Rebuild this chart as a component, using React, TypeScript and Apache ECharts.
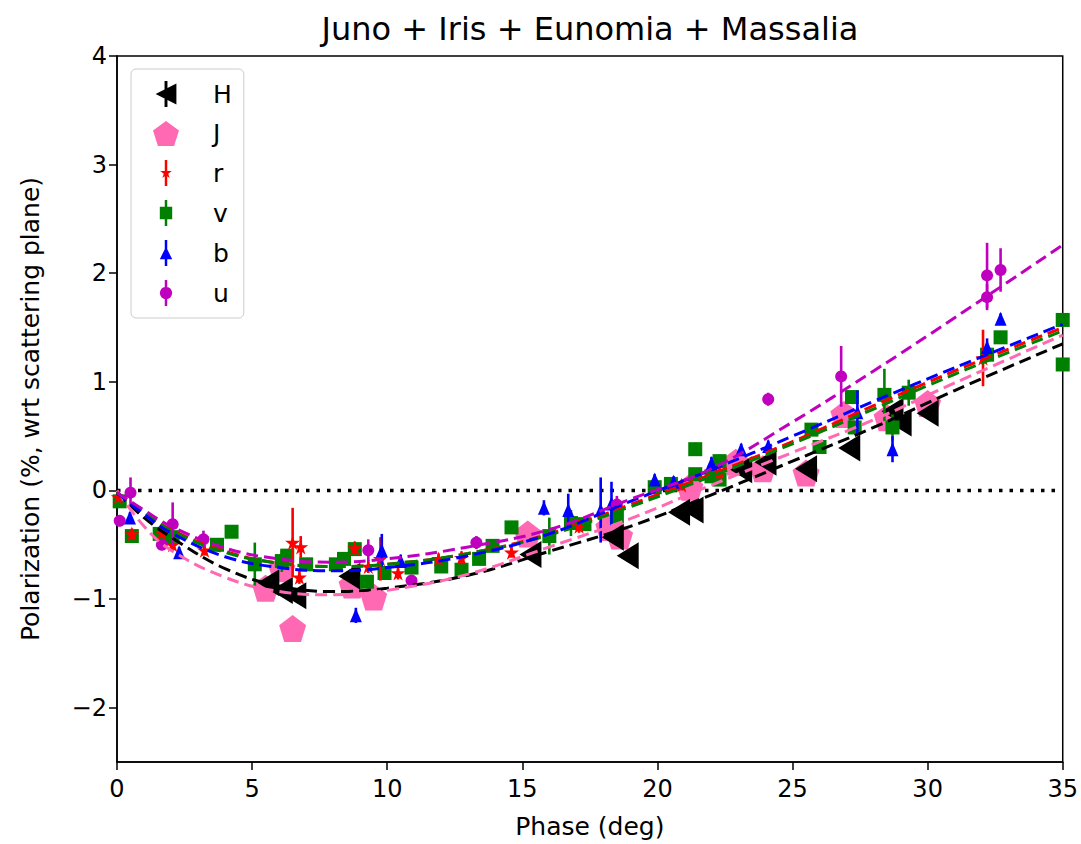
import React, { useEffect, useRef } from "react";
import * as echarts from "echarts";

const titleText = "Juno + Iris + Eunomia + Massalia";
const xTicks = [0, 5, 10, 15, 20, 25, 30, 35];
const yTicks = [-2, -1, 0, 1, 2, 3, 4];

// [phase (deg), polarization (%), error]
const hPoints = [
  [5.6, -0.85, 0.05], [6.1, -0.92, 0.05], [6.6, -0.97, 0.05], [8.6, -0.79, 0.05],
  [15.3, -0.59, 0.05], [18.35, -0.43, 0.05], [18.9, -0.6, 0.05], [20.8, -0.2, 0.05],
  [21.3, -0.18, 0.05], [23.1, 0.19, 0.05], [24.0, 0.26, 0.05], [25.5, 0.2, 0.05],
  [27.1, 0.39, 0.05], [28.7, 0.73, 0.05], [29.0, 0.62, 0.05], [30.0, 0.71, 0.05],
];
const jPoints = [
  [5.5, -0.9, 0.04], [6.1, -0.72, 0.04], [6.5, -1.27, 0.04], [8.7, -0.87, 0.04],
  [9.5, -0.98, 0.04], [15.2, -0.4, 0.04], [18.2, -0.34, 0.04], [18.6, -0.42, 0.04],
  [21.2, 0.03, 0.04], [22.9, 0.26, 0.04], [23.9, 0.2, 0.04], [25.5, 0.16, 0.04],
  [26.9, 0.7, 0.04], [28.5, 0.67, 0.04], [30.0, 0.8, 0.04],
];
const rPoints = [
  [0.05, -0.06, 0.04], [0.55, -0.4, 0.05], [1.66, -0.39, 0.05], [2.06, -0.5, 0.06],
  [3.24, -0.55, 0.05], [6.5, -0.48, 0.32], [6.8, -0.52, 0.1], [6.75, -0.8, 0.06],
  [8.8, -0.53, 0.06], [9.3, -0.7, 0.06], [9.75, -0.63, 0.2], [10.4, -0.76, 0.06],
  [11.9, -0.63, 0.05], [12.75, -0.62, 0.06], [14.6, -0.57, 0.05], [17.1, -0.33, 0.06],
  [20.9, 0.05, 0.05], [22.3, 0.17, 0.06], [32.05, 1.22, 0.26],
];
const vPoints = [
  [0.1, -0.1, 0.04], [0.55, -0.42, 0.04], [1.58, -0.4, 0.05], [2.06, -0.43, 0.05],
  [3.7, -0.5, 0.05], [4.24, -0.38, 0.04], [5.1, -0.68, 0.2], [6.1, -0.65, 0.1],
  [6.3, -0.6, 0.06], [7.0, -0.68, 0.05], [8.1, -0.68, 0.05], [8.4, -0.63, 0.05],
  [8.8, -0.54, 0.06], [9.25, -0.84, 0.06], [9.9, -0.76, 0.05], [10.9, -0.71, 0.05],
  [12.0, -0.7, 0.05], [12.75, -0.73, 0.05], [13.4, -0.63, 0.05], [13.9, -0.51, 0.05],
  [14.6, -0.34, 0.05], [16.0, -0.42, 0.17], [16.8, -0.3, 0.12], [17.3, -0.31, 0.05],
  [18.5, -0.24, 0.06], [19.9, 0.03, 0.05], [20.5, 0.06, 0.05], [21.4, 0.38, 0.06],
  [21.4, 0.15, 0.05], [22.0, 0.13, 0.05], [22.3, 0.27, 0.06], [22.3, 0.1, 0.05],
  [25.7, 0.56, 0.05], [26.0, 0.4, 0.05], [27.2, 0.86, 0.06], [27.3, 0.58, 0.06],
  [28.4, 0.88, 0.24], [28.7, 0.58, 0.12], [29.3, 0.9, 0.12], [32.7, 1.41, 0.05],
  [32.2, 1.25, 0.05], [35.0, 1.57, 0.05], [35.0, 1.16, 0.05],
];
const bPoints = [
  [0.48, -0.25, 0.05], [2.3, -0.57, 0.05], [8.84, -1.15, 0.07], [9.8, -0.55, 0.15],
  [10.5, -0.65, 0.06], [15.8, -0.16, 0.07], [16.7, -0.18, 0.15], [17.9, -0.18, 0.3],
  [18.3, -0.12, 0.2], [19.9, 0.1, 0.05], [20.6, 0.08, 0.05], [22.0, 0.25, 0.06],
  [23.1, 0.38, 0.05], [24.1, 0.41, 0.05], [27.4, 0.72, 0.2], [28.7, 0.38, 0.12],
  [32.2, 1.32, 0.08], [32.7, 1.58, 0.05],
];
const uPoints = [
  [0.1, -0.28, 0.05], [0.5, -0.02, 0.14], [2.06, -0.31, 0.2], [1.66, -0.5, 0.05],
  [3.2, -0.45, 0.08], [9.3, -0.55, 0.1], [10.9, -0.83, 0.05], [13.3, -0.48, 0.06],
  [18.5, -0.13, 0.08], [24.1, 0.84, 0.06], [26.8, 1.05, 0.28], [32.2, 1.98, 0.3],
  [32.2, 1.78, 0.12], [32.7, 2.03, 0.2],
];

// fitted phase curves
const fitX = [0, 1, 2, 4, 6, 8, 10, 13, 16, 19, 22, 25, 28, 31, 35];
const hFit = [-0.02, -0.25, -0.43, -0.72, -0.88, -0.93, -0.9, -0.78, -0.56, -0.33, -0.04, 0.27, 0.58, 0.92, 1.35];
const jFit = [0, -0.33, -0.55, -0.8, -0.93, -0.96, -0.92, -0.77, -0.52, -0.26, 0.05, 0.35, 0.65, 0.99, 1.43];
const rFit = [-0.02, -0.2, -0.36, -0.56, -0.67, -0.7, -0.68, -0.58, -0.4, -0.13, 0.15, 0.45, 0.78, 1.1, 1.5];
const vFit = [-0.02, -0.2, -0.37, -0.57, -0.67, -0.7, -0.68, -0.58, -0.41, -0.15, 0.13, 0.43, 0.75, 1.07, 1.47];
const bFit = [-0.02, -0.22, -0.39, -0.61, -0.71, -0.74, -0.71, -0.6, -0.4, -0.1, 0.19, 0.5, 0.82, 1.13, 1.53];
const uFit = [-0.02, -0.18, -0.33, -0.53, -0.63, -0.66, -0.63, -0.52, -0.36, -0.08, 0.2, 0.63, 1.1, 1.59, 2.26];

const FONT = "DejaVu Sans";

const TRI_LEFT = "M-100,0 L100,-100 L100,100 Z";
const PENTAGON = "M0,-100 L95,-31 L59,81 L-59,81 L-95,-31 Z";
const STAR = "M0,-100 L22,-31 L95,-31 L36,12 L59,81 L0,38 L-59,81 L-36,12 L-95,-31 L-22,-31 Z";
const SQUARE = "M-100,-100 L100,-100 L100,100 L-100,100 Z";
const TRI_UP = "M0,-100 L100,100 L-100,100 Z";
const CIRCLE = "M0,-100 L38,-92 L71,-71 L92,-38 L100,0 L92,38 L71,71 L38,92 L0,100 L-38,92 L-71,71 L-92,38 L-100,0 L-92,-38 L-71,-71 L-38,-92 Z";
const bar = (h: number, w: number) => `M${-w},${-h} L${w},${-h} L${w},${h} L${-w},${h} Z`;

const bands = [
  { name: "H", pts: hPoints, fit: hFit, color: "#000000", symbol: "path://" + TRI_LEFT, size: [22, 27], legendIcon: "path://" + TRI_LEFT + " " + bar(125, 14), z: 3 },
  { name: "J", pts: jPoints, fit: jFit, color: "#ff69b4", symbol: "path://" + PENTAGON, size: 27, legendIcon: "path://" + PENTAGON, z: 2 },
  { name: "r", pts: rPoints, fit: rFit, color: "#ff0000", symbol: "path://" + STAR, size: 15, legendIcon: "path://" + STAR + " " + bar(210, 20), z: 5 },
  { name: "v", pts: vPoints, fit: vFit, color: "#008000", symbol: "rect", size: 14, legendIcon: "path://" + SQUARE + " " + bar(210, 20), z: 4 },
  { name: "b", pts: bPoints, fit: bFit, color: "#0000ff", symbol: "triangle", size: [12, 14], legendIcon: "path://" + TRI_UP + " " + bar(210, 20), z: 6 },
  { name: "u", pts: uPoints, fit: uFit, color: "#bf00bf", symbol: "circle", size: 12, legendIcon: "path://" + CIRCLE + " " + bar(210, 20), z: 7 },
];

export default function App() {
  const ref = useRef<HTMLDivElement>(null);
  useEffect(() => {
    if (!ref.current) return;
    const chart = echarts.init(ref.current, undefined, { renderer: "svg" });
    const series: any[] = [];
    series.push({
      type: "line",
      name: "zero",
      data: [[0, 0], [35, 0]],
      symbol: "none",
      lineStyle: { color: "#000", width: 3.5, type: [3.5, 7], cap: "butt" },
      z: 1,
      silent: true,
    });
    bands.forEach((b) => {
      series.push({
        type: "custom",
        name: b.name + "-err",
        data: b.pts,
        encode: { x: 0, y: 1 },
        z: b.z,
        silent: true,
        renderItem: (params: any, api: any) => {
          const x = api.value(0), y = api.value(1), e = api.value(2);
          const p1 = api.coord([x, y - e]);
          const p2 = api.coord([x, y + e]);
          return {
            type: "line",
            shape: { x1: p1[0], y1: p1[1], x2: p2[0], y2: p2[1] },
            style: { stroke: b.color, lineWidth: 2.6 },
          };
        },
      });
      series.push({
        type: "scatter",
        name: b.name,
        data: b.pts.map((p) => [p[0], p[1]]),
        symbol: b.symbol,
        symbolSize: b.size,
        itemStyle: { color: b.color, opacity: 1 },
        z: b.z,
      });
    });
    bands.forEach((b) => {
      series.push({
        type: "line",
        name: b.name + "-fit",
        data: fitX.map((x, i) => [x, b.fit[i]]),
        smooth: 0.4,
        symbol: "none",
        lineStyle: { color: b.color, width: 3, type: [12, 6] },
        z: 8,
        silent: true,
      });
    });

    chart.setOption({
      animation: false,
      textStyle: { fontFamily: FONT },
      graphic: [
        {
          type: "text",
          x: 590,
          y: 29,
          style: {
            text: titleText,
            font: `32px '${FONT}'`,
            fill: "#000",
            textAlign: "center",
            textVerticalAlign: "middle",
          },
        },
      ],
      grid: { left: 117, right: 14, top: 56, bottom: 81, show: true, borderColor: "#000", borderWidth: 1.5, backgroundColor: "transparent" },
      legend: {
        orient: "vertical",
        left: 131,
        top: 69,
        itemWidth: 26,
        itemHeight: 26,
        itemGap: 14,
        padding: [12, 12, 12, 22],
        borderColor: "#cccccc",
        borderWidth: 1,
        borderRadius: 5,
        backgroundColor: "rgba(255,255,255,0.8)",
        symbolKeepAspect: true,
        textStyle: { fontFamily: FONT, fontSize: 25, color: "#000", padding: [0, 0, 0, 29] },
        data: bands.map((b) => ({ name: b.name, icon: b.legendIcon, itemStyle: { color: b.color } })),
        selectedMode: false,
      },
      xAxis: {
        type: "value",
        min: 0,
        max: 35,
        interval: 5,
        name: "Phase (deg)",
        nameLocation: "middle",
        nameGap: 52,
        nameTextStyle: { fontFamily: FONT, fontSize: 25, color: "#000" },
        axisLine: { show: true, onZero: false, lineStyle: { color: "#000", width: 1.5 } },
        axisTick: { show: true, length: 8, lineStyle: { color: "#000", width: 1.5 } },
        axisLabel: { fontFamily: FONT, fontSize: 24, color: "#000", margin: 15 },
        splitLine: { show: false },
      },
      yAxis: {
        type: "value",
        min: -2.5,
        max: 4,
        name: "Polarization (%, wrt scattering plane)",
        nameLocation: "middle",
        nameGap: 74,
        nameTextStyle: { fontFamily: FONT, fontSize: 25, color: "#000" },
        axisLine: { show: true, onZero: false, lineStyle: { color: "#000", width: 1.5 } },
        axisTick: { show: true, length: 8, customValues: yTicks, lineStyle: { color: "#000", width: 1.5 } },
        axisLabel: {
          fontFamily: FONT,
          fontSize: 24,
          color: "#000",
          margin: 10,
          customValues: yTicks,
          formatter: (v: number) => (v < 0 ? "\u2212" + Math.abs(v) : String(v)),
        },
        splitLine: { show: false },
      },
      series,
    });
    return () => chart.dispose();
  }, []);
  return <div ref={ref} style={{ position: "fixed", left: 0, top: 0, width: 1081, height: 844, background: "#fff" }} />;
}
